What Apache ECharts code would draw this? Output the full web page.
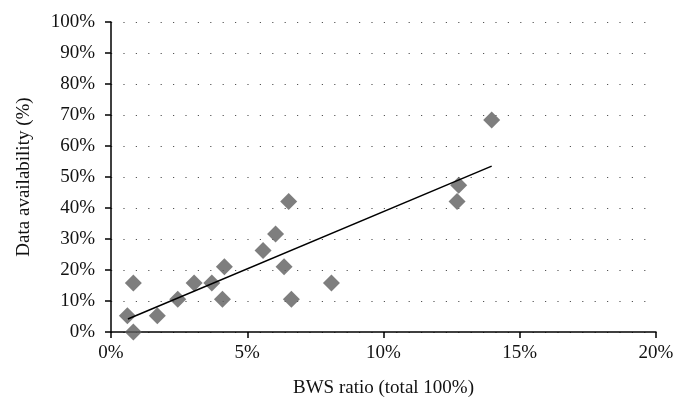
<!DOCTYPE html>
<html><head><meta charset="utf-8">
<script src="https://cdn.jsdelivr.net/npm/echarts@6/dist/echarts.min.js"></script>
<style>html,body{margin:0;padding:0;background:#fff}#c{width:688px;height:413px}</style>
</head><body><div id="c"></div>
<script>
// BWS ratio (%) and data availability (%)
const bwsRatio = [0.60, 0.82, 0.82, 1.70, 2.45, 3.05, 3.70, 4.09, 4.16, 5.58, 6.04, 6.35, 6.52, 6.62, 8.09, 12.76, 12.70, 13.97];
const availability = [5.26, 15.79, 0.0, 5.26, 10.53, 15.79, 15.79, 10.53, 21.05, 26.32, 31.58, 21.05, 42.11, 10.53, 15.79, 47.37, 42.11, 68.42];
// trend line endpoints
const trendX = [0.62, 13.97];
const trendY = [4.2, 53.5];

const font = 'Liberation Serif';
const chart = echarts.init(document.getElementById('c'), null, {renderer: 'canvas'});
chart.setOption({
  animation: false,
  backgroundColor: '#fff',
  grid: {left: 111, right: 32, top: 22, bottom: 81},
  xAxis: {
    type: 'value', min: 0, max: 20, interval: 5,
    name: 'BWS ratio (total 100%)', nameLocation: 'middle', nameGap: 47,
    nameTextStyle: {fontFamily: font, fontSize: 19, color: '#111'},
    axisLine: {show: true, lineStyle: {color: '#000', width: 1.5}},
    axisTick: {show: true, inside: false, length: 6, lineStyle: {color: '#000', width: 1.5}},
    axisLabel: {formatter: v => v + '%', fontFamily: font, fontSize: 19, color: '#111', margin: 12},
    splitLine: {show: false}
  },
  yAxis: {
    type: 'value', min: 0, max: 100, interval: 10,
    name: 'Data availability (%)', nameLocation: 'middle', nameGap: 77, nameRotate: 90,
    nameTextStyle: {fontFamily: font, fontSize: 19, color: '#111'},
    axisLine: {show: true, lineStyle: {color: '#000', width: 1.5}},
    axisTick: {show: true, inside: false, length: 6, lineStyle: {color: '#000', width: 1.5}},
    axisLabel: {formatter: v => v + '%', fontFamily: font, fontSize: 19, color: '#111', margin: 16},
    splitLine: {show: true, lineStyle: {color: '#555', width: 1, type: [1.2, 11.2]}}
  },
  series: [
    {
      type: 'scatter', symbol: 'diamond', symbolSize: [17, 17],
      itemStyle: {color: '#5e5e5e'},
      data: bwsRatio.map((x, i) => [x, availability[i]]),
      z: 3
    },
    {
      type: 'line', symbol: 'none', silent: true,
      lineStyle: {color: '#000', width: 1.5},
      data: trendX.map((x, i) => [x, trendY[i]]),
      z: 4
    }
  ]
});
</script></body></html>
